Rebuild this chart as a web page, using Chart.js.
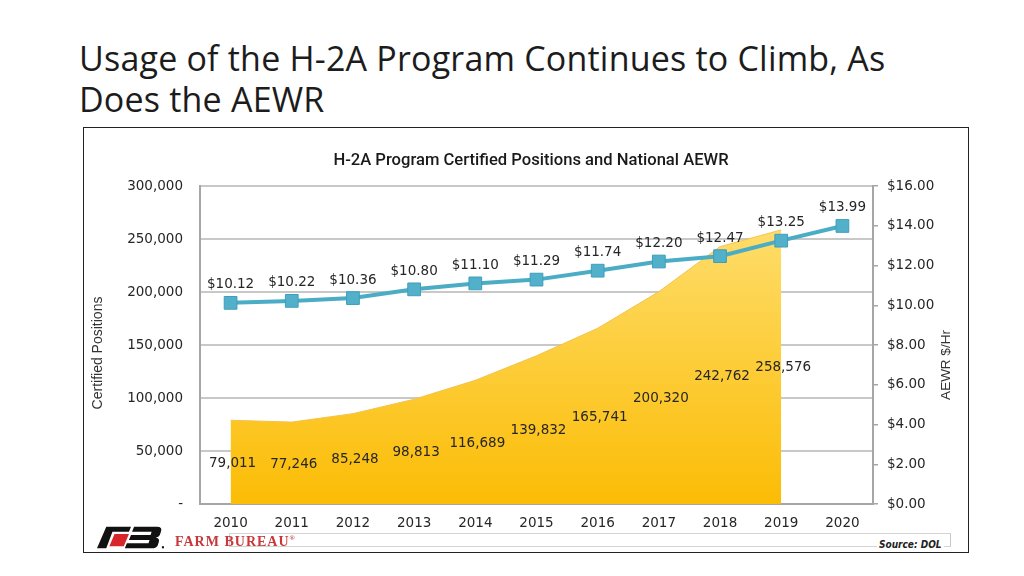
<!DOCTYPE html>
<html>
<head>
<meta charset="utf-8">
<script src="https://cdn.jsdelivr.net/npm/chart.js@4.4.1/dist/chart.umd.min.js"></script>
<style>
  body { margin: 0; width: 1024px; height: 576px; background: #fff; overflow: hidden; position: relative; }
  #pageTitle {
    position: absolute; left: 79px; top: 38px; margin: 0;
    font-family: "Open Sans", sans-serif; font-weight: 400; font-size: 34px;
    letter-spacing: 0.2px; line-height: 41px; color: #1c1c1c;
  }
  #box {
    position: absolute; left: 83px; top: 127px; width: 884px; height: 424px;
    border: 1px solid #222;
  }
  #chartPositions { position: absolute; left: 0; top: 0; }
  #frame { position: absolute; left: 145px; top: 405px; width: 720px; height: 12px; border: 1px solid #d4d4d4; border-right-color: #c8c8c8; }
  #logo { position: absolute; left: 13px; top: 397px; }
  #fb {
    position: absolute; left: 91px; top: 406px;
    font-family: "Liberation Serif", serif; font-weight: bold; font-size: 14px;
    letter-spacing: 1px; color: #c8373a;
  }
  #fb sup { font-size: 7px; }
  #source {
    position: absolute; left: 793px; top: 411px;
    font-family: "DejaVu Sans Condensed", "DejaVu Sans", sans-serif; font-weight: bold; font-style: italic; font-size: 10px;
    color: #222; background: #fff; padding: 0 2px;
  }
</style>
</head>
<body>
<h1 id="pageTitle">Usage of the H-2A Program Continues to Climb, As<br>Does the AEWR</h1>
<div id="box">
  <canvas id="chartPositions" width="884" height="424"></canvas>
  <div id="frame"></div>
  <svg id="logo" width="68" height="26" viewBox="0 0 66 24">
    <path d="M9 1 H33 L31 6 H15 L9 22 H0 Z" fill="#111"/>
    <path d="M17 8 H31 L26 20 H12 Z" fill="#d7262c"/>
    <path d="M36 1 H58 Q64 1 62 6 L61 9 Q60 11 57 11.5 Q61 12 60 16 L59 19 Q58 22 53 22 H27 L29 17 H50 L51 14 H31 L33 9 H52 L53 6 H34 Z" fill="#111"/>
    <rect x="63" y="20" width="2" height="2" fill="#111"/>
  </svg>
  <div id="fb">FARM BUREAU<sup>®</sup></div>
  <div id="source">Source: DOL</div>
</div>

<script>
const years = ["2010", "2011", "2012", "2013", "2014", "2015", "2016", "2017", "2018", "2019", "2020"];
const certifiedPositions = [79011, 77246, 85248, 98813, 116689, 139832, 165741, 200320, 242762, 258576, null];
const aewrRates = [10.12, 10.22, 10.36, 10.80, 11.10, 11.29, 11.74, 12.20, 12.47, 13.25, 13.99];
const positionTicks = [0, 50000, 100000, 150000, 200000, 250000, 300000];
const aewrTicks = [0, 2, 4, 6, 8, 10, 12, 14, 16];

const canvas = document.getElementById("chartPositions");
const context = canvas.getContext("2d");

const numFont = '13.5px "DejaVu Sans", sans-serif';
const textColor = "#262626";

const areaGradient = (ctx) => {
  const area = ctx.chart.chartArea;
  if (!area) return "#FFC000";
  const g = ctx.chart.ctx.createLinearGradient(0, area.top, 0, area.bottom);
  g.addColorStop(0, "#FFE27A");
  g.addColorStop(1, "#FBBC05");
  return g;
};

// labels, chart title and axis titles
const labelPlugin = {
  id: "labelPlugin",
  afterDatasetsDraw(chart) {
    const ctx = chart.ctx;
    const yLeft = chart.scales.y;
    ctx.save();
    ctx.fillStyle = textColor;
    ctx.font = numFont;
    ctx.textAlign = "center";
    ctx.textBaseline = "middle";

    const areaMeta = chart.getDatasetMeta(1);
    areaMeta.data.forEach((pt, i) => {
      const v = certifiedPositions[i];
      if (v === null) return;
      ctx.fillText(v.toLocaleString("en-US"), pt.x + 2, yLeft.getPixelForValue(v / 2) + 1);
    });

    const lineMeta = chart.getDatasetMeta(0);
    lineMeta.data.forEach((pt, i) => {
      ctx.fillText("$" + aewrRates[i].toFixed(2), pt.x, pt.y - 18);
    });

    // chart title
    ctx.font = '500 16.6px Roboto, sans-serif';
    ctx.fillStyle = "#1a1a1a";
    ctx.fillText("H-2A Program Certified Positions and National AEWR", 447, 33);

    // axis titles
    ctx.fillStyle = "#333";
    ctx.font = '14px "Liberation Sans", sans-serif';
    ctx.save();
    ctx.translate(14, 225);
    ctx.rotate(-Math.PI / 2);
    ctx.fillText("Certified Positions", 0, 0);
    ctx.restore();
    ctx.font = '13.5px "Liberation Sans", sans-serif';
    ctx.save();
    ctx.translate(862, 237);
    ctx.rotate(-Math.PI / 2);
    ctx.fillText("AEWR $/Hr", 0, 0);
    ctx.restore();
    ctx.restore();
  },
};

const chartPositions = new Chart(context, {
  type: "line",
  data: {
    labels: years,
    datasets: [
      {
        label: "AEWR",
        data: aewrRates,
        yAxisID: "y1",
        order: 0,
        borderColor: "#4BACC6",
        borderWidth: 4,
        pointStyle: "rect",
        pointRadius: 9,
        pointBackgroundColor: "#52B0CA",
        pointBorderColor: "#3F9FBA",
        pointBorderWidth: 1,
        tension: 0,
        fill: false,
      },
      {
        label: "Certified Positions",
        data: certifiedPositions,
        yAxisID: "y",
        order: 1,
        borderColor: "#F3C24A",
        borderWidth: 1,
        backgroundColor: areaGradient,
        pointRadius: 0,
        tension: 0,
        fill: "origin",
      },
    ],
  },
  options: {
    responsive: false,
    animation: false,
    layout: { padding: { top: 58, left: 0, right: 0, bottom: 0 } },
    plugins: {
      legend: { display: false },
      tooltip: { enabled: false },
      title: { display: false },
    },
    scales: {
      x: {
        offset: true,
        grid: { display: false },
        border: { color: "#A6A6A6", width: 2 },
        ticks: { color: textColor, font: { family: "DejaVu Sans", size: 13.5 }, padding: 3, maxRotation: 0 },
        afterFit: (scale) => { scale.height = 48; },
      },
      y: {
        position: "left",
        min: 0,
        max: 300000,
        afterBuildTicks: (scale) => { scale.ticks = positionTicks.map((v) => ({ value: v })); },
        grid: { color: "#C8C8C8", lineWidth: 2, drawTicks: false },
        border: { color: "#A6A6A6", width: 2 },
        ticks: {
          color: textColor,
          font: { family: "DejaVu Sans", size: 13.5 },
          padding: 17,
          callback: (v) => (v === 0 ? "-" : v.toLocaleString("en-US")),
        },
        afterFit: (scale) => { scale.width = 116; },
      },
      y1: {
        position: "right",
        min: 0,
        max: 16,
        afterBuildTicks: (scale) => { scale.ticks = aewrTicks.map((v) => ({ value: v })); },
        grid: { drawOnChartArea: false, color: "#A6A6A6", lineWidth: 1.5, tickLength: 5 },
        border: { color: "#A6A6A6", width: 2 },
        ticks: {
          color: textColor,
          font: { family: "DejaVu Sans", size: 13.5 },
          padding: 9,
          callback: (v) => "$" + v.toFixed(2),
        },
        afterFit: (scale) => { scale.width = 95; },
      },
    },
  },
  plugins: [labelPlugin],
});
</script>
</body>
</html>
